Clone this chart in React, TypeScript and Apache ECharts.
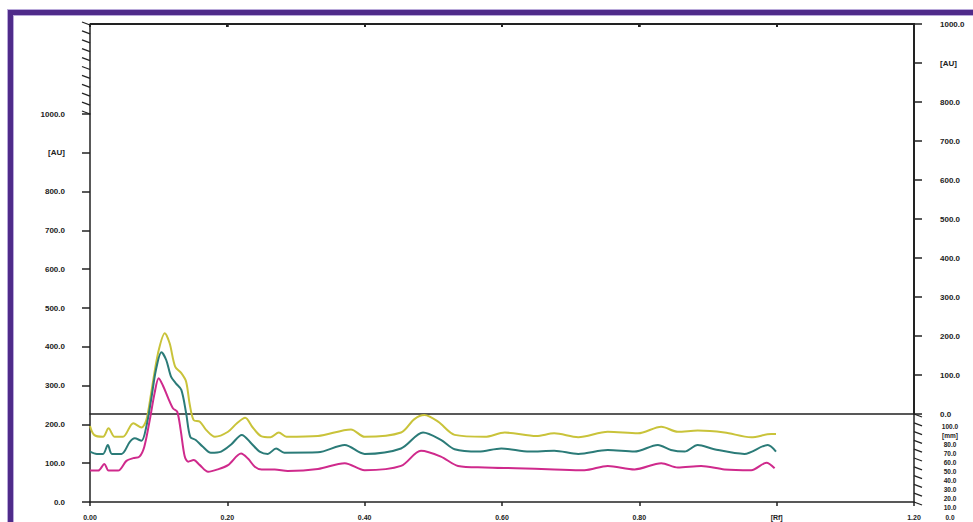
import React, { useEffect, useRef } from "react";
import * as echarts from "echarts";

// Rf positions and AU values (three tracks)
const magentaTrack: [number, number][] = [
  [0, 81], [0.012, 81], [0.021, 98], [0.027, 81], [0.041, 81], [0.053, 106], [0.063, 113], [0.072, 117],
  [0.079, 142], [0.087, 211], [0.094, 280], [0.1, 319], [0.106, 301], [0.114, 267], [0.121, 241], [0.127, 233],
  [0.132, 186], [0.138, 117], [0.143, 104], [0.151, 108], [0.16, 95], [0.172, 78], [0.186, 84], [0.201, 95],
  [0.22, 125], [0.23, 112], [0.24, 91], [0.25, 84], [0.269, 84], [0.288, 80], [0.332, 85], [0.371, 100],
  [0.4, 82], [0.453, 93], [0.482, 132], [0.511, 117], [0.536, 93], [0.575, 89], [0.62, 87], [0.676, 84],
  [0.72, 82], [0.754, 93], [0.793, 84], [0.832, 100], [0.856, 89], [0.89, 93], [0.924, 84], [0.963, 82],
  [0.985, 101], [0.997, 87],
];

const tealTrack: [number, number][] = [
  [0, 130], [0.01, 124], [0.019, 124], [0.026, 147], [0.032, 124], [0.046, 124], [0.058, 155], [0.065, 164],
  [0.075, 158], [0.082, 194], [0.089, 263], [0.096, 340], [0.104, 386], [0.111, 366], [0.118, 323], [0.125, 306],
  [0.133, 289], [0.14, 229], [0.146, 168], [0.154, 160], [0.164, 143], [0.176, 127], [0.191, 130], [0.206, 149],
  [0.221, 173], [0.235, 151], [0.247, 130], [0.259, 124], [0.271, 138], [0.283, 127], [0.332, 128], [0.371, 147],
  [0.4, 124], [0.453, 138], [0.485, 179], [0.511, 160], [0.531, 136], [0.566, 130], [0.599, 138], [0.64, 130],
  [0.676, 132], [0.711, 124], [0.754, 134], [0.793, 130], [0.827, 147], [0.846, 134], [0.866, 130], [0.885, 147],
  [0.909, 136], [0.953, 124], [0.987, 147], [0.999, 130],
];

const yellowTrack: [number, number][] = [
  [0, 196], [0.006, 173], [0.019, 168], [0.027, 190], [0.036, 168], [0.048, 168], [0.063, 203], [0.075, 192],
  [0.082, 211], [0.089, 280], [0.099, 383], [0.109, 435], [0.116, 409], [0.124, 349], [0.133, 332], [0.14, 310],
  [0.145, 254], [0.151, 211], [0.16, 207], [0.169, 186], [0.182, 168], [0.201, 181], [0.214, 203], [0.226, 217],
  [0.237, 192], [0.249, 170], [0.263, 167], [0.275, 179], [0.286, 168], [0.332, 170], [0.38, 187], [0.4, 168],
  [0.453, 179], [0.472, 213], [0.487, 224], [0.507, 207], [0.531, 173], [0.575, 168], [0.604, 179], [0.65, 170],
  [0.676, 177], [0.711, 167], [0.754, 181], [0.798, 177], [0.832, 194], [0.856, 181], [0.885, 184], [0.924, 179],
  [0.963, 167], [0.992, 175], [0.999, 175],
];

// depth (mm) ticks of the oblique axis
const depthTicks: number[] = [0, 10, 20, 30, 40, 50, 60, 70, 80, 90, 100];
// Rf ticks on the back (top) edge
const rfTicks: number[] = [0, 0.2, 0.4, 0.6, 0.8, 1.0, 1.2];

const AXIS = "#222";
const FONT = "Liberation Sans, Arial, sans-serif";

// frame geometry (pixels)
const PLOT_LEFT = 90;
const PLOT_RIGHT = 914;
const BACK_TOP = 24;
const BACK_BASE = 414;
const RF_MAX = 1.2;

export default function App() {
  const ref = useRef<HTMLDivElement>(null);
  useEffect(() => {
    if (!ref.current) return;
    const chart = echarts.init(ref.current, null, { renderer: "svg" });
    const auFmt = (v: number) => (v === 900 ? "[AU]" : v.toFixed(1));
    const mmFmt = (v: number) => (v === 90 ? "[mm]" : v.toFixed(1));
    const rfFmt = (v: number) => (Math.abs(v - 1) < 1e-9 ? "[Rf]" : v.toFixed(2));
    const ls = () => ({ color: AXIS, width: 1.5 });
    const axisLine = () => ({ show: true, onZero: false, lineStyle: ls() });
    const label = () => ({ fontSize: 8, fontWeight: "bold" as const, color: AXIS, fontFamily: FONT });

    chart.setOption({
      animation: false,
      backgroundColor: "transparent",
      grid: [
        { left: 90, right: 59, top: 114, bottom: 20 },
        { left: 90, right: 59, top: 24, bottom: 108 },
        { left: 90, right: 59, top: 25, bottom: 408 },
        { left: 90, right: 59, top: 414, bottom: 20 },
        { left: 90, right: 59, top: 426, bottom: 5 },
      ],
      xAxis: [
        {
          gridIndex: 0, type: "value", min: 0, max: 1.2, interval: 0.2, position: "bottom",
          axisLine: axisLine(),
          axisTick: { show: true, length: 4, lineStyle: ls() },
          axisLabel: { ...label(), fontSize: 7, margin: 12, formatter: rfFmt },
          splitLine: { show: false },
        },
        {
          gridIndex: 1, type: "value", min: 0, max: 1.2, interval: 0.2, position: "top",
          axisLine: axisLine(),
          axisTick: { show: true, inside: true, length: 3, lineStyle: ls() },
          axisLabel: { show: false },
          splitLine: { show: false },
        },
        { gridIndex: 2, type: "value", min: 0, max: 1.2, show: false },
        {
          gridIndex: 3, type: "value", min: 0, max: 1.2, position: "top",
          axisLine: axisLine(),
          axisTick: { show: false },
          axisLabel: { show: false },
          splitLine: { show: false },
        },
        { gridIndex: 4, type: "value", min: 0, max: 1.2, show: false },
      ],
      yAxis: [
        {
          gridIndex: 0, type: "value", min: 0, max: 1000, interval: 100, position: "left",
          axisLine: axisLine(),
          axisTick: { show: true, length: 8, lineStyle: ls() },
          axisLabel: { ...label(), margin: 25, formatter: auFmt },
          splitLine: { show: false },
        },
        {
          gridIndex: 1, type: "value", min: 0, max: 1000, interval: 100, position: "right",
          axisLine: axisLine(),
          axisTick: { show: true, length: 8, lineStyle: ls() },
          axisLabel: { ...label(), margin: 26, formatter: auFmt },
          splitLine: { show: false },
        },
        {
          gridIndex: 2, type: "value", min: 0, max: 100, interval: 10, position: "left",
          axisLine: axisLine(),
          axisTick: { show: false }, axisLabel: { show: false }, splitLine: { show: false },
        },
        {
          gridIndex: 3, type: "value", min: 0, max: 100, interval: 10, position: "right",
          axisLine: axisLine(),
          axisTick: { show: false }, axisLabel: { show: false }, splitLine: { show: false },
        },
        {
          gridIndex: 4, type: "value", min: 0, max: 100, interval: 10, position: "right",
          axisLine: { show: false, onZero: false }, axisTick: { show: false }, splitLine: { show: false },
          axisLabel: { ...label(), fontSize: 6.5, margin: 36, align: "center", formatter: mmFmt },
        },
      ],
      series: [
        {
          type: "line", name: "track 3", xAxisIndex: 0, yAxisIndex: 0, data: yellowTrack,
          smooth: 0.3, showSymbol: false, lineStyle: { color: "#c9c33a", width: 2 }, z: 3,
        },
        {
          type: "line", name: "track 2", xAxisIndex: 0, yAxisIndex: 0, data: tealTrack,
          smooth: 0.3, showSymbol: false, lineStyle: { color: "#2b7b78", width: 2 }, z: 3,
        },
        {
          type: "line", name: "track 1", xAxisIndex: 0, yAxisIndex: 0, data: magentaTrack,
          smooth: 0.3, showSymbol: false, lineStyle: { color: "#cf2a8c", width: 2 }, z: 3,
        },
        {
          type: "custom", xAxisIndex: 2, yAxisIndex: 2, clip: false,
          data: depthTicks.map((d) => [0, d]),
          renderItem: (_p: any, api: any) => {
            const p = api.coord([api.value(0), api.value(1)]);
            return {
              type: "line",
              shape: { x1: p[0] - 8, y1: p[1] - 3, x2: p[0], y2: p[1] },
              style: { stroke: AXIS, lineWidth: 1.3 },
            };
          },
        },
        {
          type: "custom", xAxisIndex: 3, yAxisIndex: 3, clip: false,
          data: depthTicks.map((d) => [1.2, d]),
          renderItem: (_p: any, api: any) => {
            const p = api.coord([api.value(0), api.value(1)]);
            return {
              type: "line",
              shape: { x1: p[0], y1: p[1], x2: p[0] + 8, y2: p[1] + 3 },
              style: { stroke: AXIS, lineWidth: 1.3 },
            };
          },
        },
      ],
      graphic: [
        { type: "rect", shape: { x: 7, y: 9, width: 966, height: 7 }, style: { fill: "#b9a9da" }, silent: true },
        { type: "rect", shape: { x: 7, y: 9, width: 7, height: 513 }, style: { fill: "#b9a9da" }, silent: true },
        { type: "rect", shape: { x: 8, y: 10, width: 965, height: 5 }, style: { fill: "#4f2b8a" }, silent: true },
        { type: "rect", shape: { x: 8, y: 10, width: 5, height: 512 }, style: { fill: "#4f2b8a" }, silent: true },
      ],
    });
    return () => chart.dispose();
  }, []);

  const rfX = (r: number) => PLOT_LEFT + (r / RF_MAX) * (PLOT_RIGHT - PLOT_LEFT);
  const bar = (left: number, top: number, width: number, height: number, key: string) => (
    <div
      key={key}
      style={{ position: "absolute", left, top, width, height, background: AXIS, pointerEvents: "none" }}
    />
  );

  return (
    <div style={{ position: "fixed", left: 0, top: 0, width: 973, height: 522, background: "#fff" }}>
      <div ref={ref} style={{ position: "absolute", left: 0, top: 0, width: 973, height: 522 }} />
      {bar(PLOT_LEFT, BACK_TOP - 1, PLOT_RIGHT - PLOT_LEFT + 1, 2, "top")}
      {bar(PLOT_RIGHT - 1, BACK_TOP - 1, 2, BACK_BASE - BACK_TOP + 1, "right")}
      {rfTicks.map((r) => bar(Math.round(rfX(r)) - 1, BACK_TOP, 1.5, 3, "t" + r))}
    </div>
  );
}
